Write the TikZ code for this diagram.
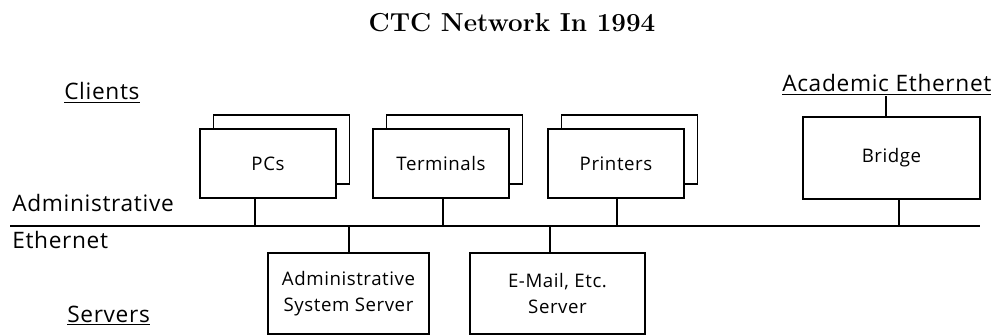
\documentclass[tikz,border=0pt]{standalone}
\usepackage{fontspec}
\newfontfamily\labfont{Open Sans}[LetterSpace=3]
\newcommand{\lbl}{\labfont\fontsize{17}{20}\selectfont}
\newcommand{\boxtxt}{\labfont\fontsize{14}{19.5}\selectfont}
\tikzset{
  wire/.style={line width=1.4pt},
  unitbox/.style={draw, line width=1.4pt, fill=white, inner sep=0pt,
    minimum width=102pt, minimum height=51.75pt, font=\boxtxt},
  backbox/.style={unitbox, fill=white},
  srvbox/.style={draw, line width=1.4pt, fill=white, inner sep=0pt,
    minimum height=60.75pt, align=center, font=\boxtxt},
  lab/.style={inner sep=0pt, anchor=base west, font=\lbl},
}
\begin{document}
\begin{tikzpicture}[x=0.75pt, y=-0.75pt]
  \useasboundingbox (0,0) rectangle (1000,335);

  % title
  \node[inner sep=0pt, anchor=base, font=\fontsize{19.5}{22}\selectfont\bfseries]
    (title) at (512,32) {CTC Network In 1994};

  % side labels
  \node[lab] (clients) at (64,100) {\underline{Clients}};
  \node[lab] (adm) at (12,211) {Administrative};
  \node[lab] (eth) at (12,248) {Ethernet};
  \node[lab] (servers) at (67,322) {\underline{Servers}};
  \node[lab] (acad) at (782,92) {\underline{Academic Ethernet}};

  % administrative ethernet backbone
  \coordinate (ethW) at (10,226);
  \coordinate (ethE) at (980,226);
  \draw[wire] (ethW) -- (ethE);

  % stacked client groups
  \node[backbox] (pcsB)  at (281.5,149.5) {};
  \node[unitbox] (pcs)   at (268,163.5) {PCs};
  \node[backbox] (termB) at (454.5,149.5) {};
  \node[unitbox] (term)  at (441,163.5) {Terminals};
  \node[backbox] (prnB)  at (629.5,149.5) {};
  \node[unitbox] (prn)   at (616,163.5) {Printers};

  % bridge to the academic network
  \node[unitbox, minimum width=132.75pt, minimum height=61.5pt] (bridge) at (891.5,158) {Bridge};

  % servers
  \node[srvbox, minimum width=120.75pt] (admsrv) at (348.5,293.5) {Administrative\\System Server};
  \node[srvbox, minimum width=131.25pt] (mailsrv) at (557.5,293.5) {E-Mail, Etc.\\Server};

  % taps on the backbone
  \coordinate (tPcs)  at (255,226);
  \coordinate (tTerm) at (443,226);
  \coordinate (tPrn)  at (617,226);
  \coordinate (tBr)   at (899,226);
  \coordinate (tAdm)  at (349,226);
  \coordinate (tMail) at (550,226);
  \coordinate (tAcad) at (886,96);

  \draw[wire] (pcs.south -| tPcs) -- (tPcs);
  \draw[wire] (term.south -| tTerm) -- (tTerm);
  \draw[wire] (prn.south -| tPrn) -- (tPrn);
  \draw[wire] (bridge.south -| tBr) -- (tBr);
  \draw[wire] (tAdm) -- (admsrv.north -| tAdm);
  \draw[wire] (tMail) -- (mailsrv.north -| tMail);
  \draw[wire] (bridge.north -| tAcad) -- (tAcad);
\end{tikzpicture}
\end{document}
